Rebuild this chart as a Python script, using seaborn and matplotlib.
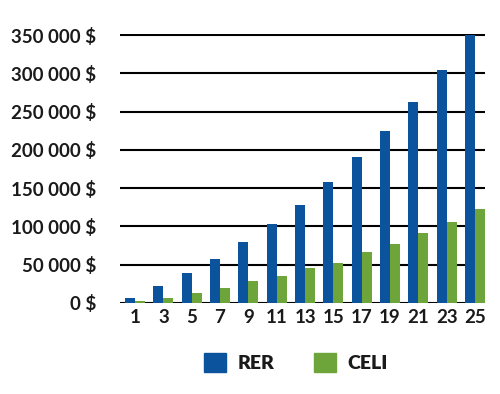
import numpy as np
import pandas as pd
import seaborn as sns
import matplotlib.pyplot as plt
from matplotlib.ticker import FuncFormatter

years = [1, 3, 5, 7, 9, 11, 13, 15, 17, 19, 21, 23, 25]
rer = [6000, 22000, 38700, 57800, 80000, 103100, 127500, 158000,
       190600, 224100, 262400, 304200, 350000]
celi = [3000, 6900, 12700, 19600, 28700, 35200, 45300, 51800,
        66100, 76600, 91000, 105700, 123100]

df = pd.DataFrame({
    "annee": [str(y) for y in years] * 2,
    "montant": rer + celi,
    "regime": ["RER"] * len(years) + ["CELI"] * len(years),
})

sns.set_style("white")
plt.rcParams["font.family"] = ["Lato", "DejaVu Sans"]

fig = plt.figure(figsize=(5, 3.94), dpi=100)
ax = fig.add_axes([0.24, 0.231, 0.73, 0.683])

sns.barplot(data=df, x="annee", y="montant", hue="regime",
            palette={"RER": "#0b539c", "CELI": "#6da53a"},
            width=0.7, saturation=1, linewidth=0, ax=ax, legend=False)

ax.set_ylim(0, 351500)
ax.set_xlim(-0.53, 12.35)
ax.set_yticks(np.arange(0, 350001, 50000))
ax.yaxis.set_major_formatter(FuncFormatter(
    lambda v, p: f"{int(v):,} $".replace(",", " ")))
ax.grid(axis="y", color="black", linewidth=1.5)
ax.set_axisbelow(True)
for s in ax.spines.values():
    s.set_visible(False)
ax.tick_params(axis="both", length=0, labelsize=13.5)
ax.tick_params(axis="y", pad=17)
ax.tick_params(axis="x", pad=4)
for lab in ax.get_xticklabels() + ax.get_yticklabels():
    lab.set_fontweight("bold")
    lab.set_color("#1a1a1a")
ax.set_xlabel("")
ax.set_ylabel("")

handles = [plt.Rectangle((0, 0), 1, 1, color="#0b539c"),
           plt.Rectangle((0, 0), 1, 1, color="#6da53a")]
leg = fig.legend(handles, ["RER", "CELI"], loc="center",
                 bbox_to_anchor=(0.592, 0.08), ncol=2, frameon=False,
                 handlelength=1.15, handleheight=1.15, columnspacing=2.0,
                 handletextpad=0.6,
                 prop={"size": 14, "weight": "heavy"})
for t in leg.get_texts():
    t.set_color("#1a1a1a")

fig.savefig("out.png", dpi=100)
